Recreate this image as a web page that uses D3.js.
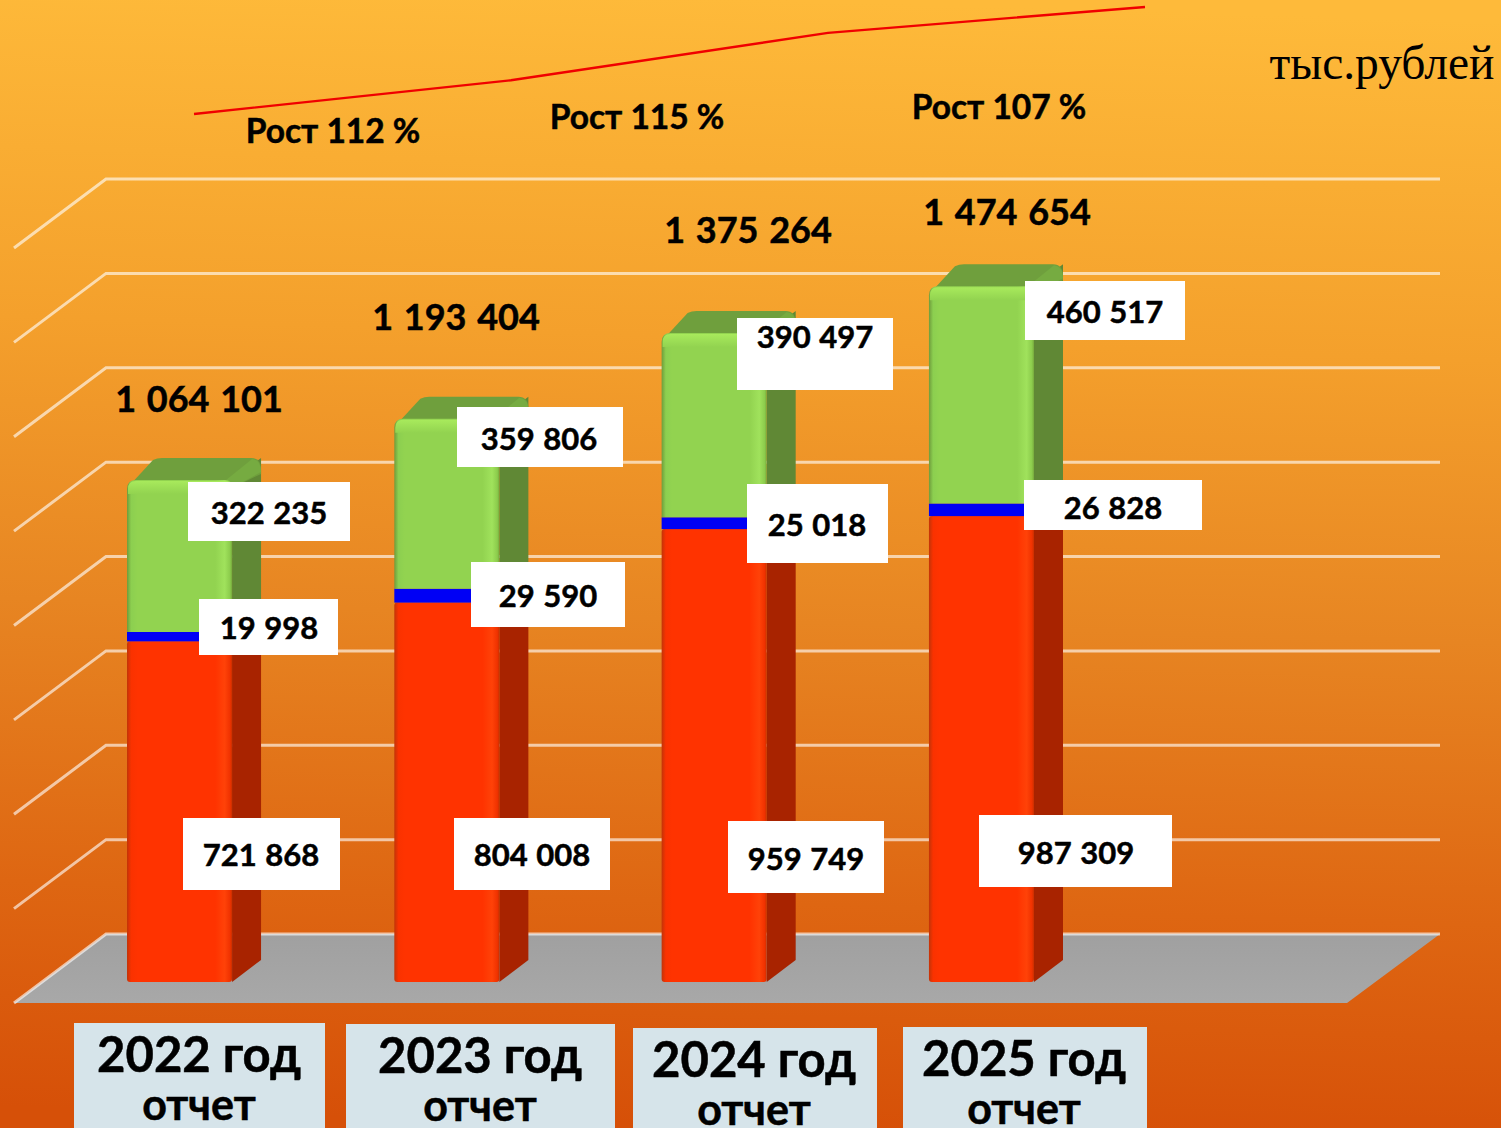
<!DOCTYPE html>
<html lang="ru">
<head>
	<meta charset="UTF-8">
	<title>Доходы по годам</title>
	<script src="https://d3js.org/d3.v7.min.js"></script>
	<style>
		html, body { margin: 0; padding: 0; background: #d9530a; overflow: hidden; }
		svg { display: block; }
		text { font-family: "Lato", "Open Sans", sans-serif; font-weight: 700; fill: #000; stroke: #000; stroke-width: 0.5px; }
	</style>
</head>
<body>
<div id="main"></div>
<script>
	// values, thousand roubles
	var years = ["2022", "2023", "2024", "2025"];
	var redValues = [721868, 804008, 959749, 987309];
	var blueValues = [19998, 29590, 25018, 26828];
	var greenValues = [322235, 359806, 390497, 460517];
	var totals = [1064101, 1193404, 1375264, 1474654];
	var growthLabels = ["Рост 112 %", "Рост 115 %", "Рост 107 %"];
	var gridTicks = [0, 200000, 400000, 600000, 800000, 1000000, 1200000, 1400000, 1600000];

	// layout only: hand placed boxes from the slide [x0, y0, x1, y1, text x, text baseline]
	var redBoxes = [[183,818,340,890,261,866],[454,818,610,890,532,866],[728,821,884,893,806,870],[979,815,1172,887,1076,864]];
	var blueBoxes = [[199,599,338,655,269,639],[471,562,625,627,548,607],[747,484,888,563,817,536],[1024,480,1202,530,1113,519]];
	var greenBoxes = [[188,482,350,541,269,524],[457,407,623,467,539,450],[737,318,893,390,815,348],[1025,281,1185,340,1105,323]];
	var yearBoxes = [[74,1023,325,1128,199],[346,1024,615,1128,480],[633,1028,877,1128,754],[903,1027,1147,1128,1024]];
	var totalPos = [[199,412],[456,330],[748,243],[1007,225]];
	var growthPos = [[333,143],[637,129],[999,119]];

	var width = 1501, height = 1128;
	var depthX = 29, depthY = 22;

	var svg = d3.select("#main").append("svg")
		.attr("width", width)
		.attr("height", height);
	var defs = svg.append("defs");

	function gradient(id, stops, x1, y1, x2, y2){
		var g = defs.append("linearGradient").attr("id", id)
			.attr("x1", x1).attr("y1", y1).attr("x2", x2).attr("y2", y2);
		stops.forEach(function(s){
			g.append("stop").attr("offset", s[0]).attr("stop-color", s[1]);
		});
	}
	gradient("bg", [[0,"#feba3a"],[0.3,"#f4a02c"],[0.55,"#e78522"],[0.8,"#de6612"],[1,"#d65008"]], 0.52, 0, 0.48, 1);
	gradient("floor", [[0,"#a0a0a0"],[1,"#a8a8a8"]], 0, 0, 0, 1);
	gradient("redFront", [[0,"#c23408"],[0.04,"#fa3200"],[0.1,"#ff3300"],[0.84,"#ff3300"],[0.93,"#ff4208"],[0.98,"#f03200"],[1,"#c83000"]], 0, 0, 1, 0);
	gradient("greenFront", [[0,"#6f9c3c"],[0.04,"#8ccf50"],[0.1,"#92d350"],[0.84,"#92d350"],[0.93,"#a0e25c"],[0.98,"#8ccc4c"],[1,"#76a83c"]], 0, 0, 1, 0);
	gradient("greenRim", [[0,"#a8ea5c"],[1,"#92d350"]], 0, 0, 0, 1);

	svg.append("rect").attr("width", width).attr("height", height).attr("fill", "url(#bg)");

	// same value scale for bars and the back wall, the wall just sits higher up
	var y = d3.scaleLinear().domain([0, 1600000]).range([982, 227]);
	var wallShift = -48, wallX0 = 106, wallX1 = 1440, sideX = 92, sideY = 69;
	var x = d3.scaleBand().domain(years).range([127, 1034]).paddingInner(0.607).paddingOuter(0);

	// floor
	svg.append("path")
		.attr("d", d3.line()([[wallX0, y(0) + wallShift], [wallX1, y(0) + wallShift], [1347, y(0) + wallShift + sideY], [wallX0 - sideX, y(0) + wallShift + sideY]]) + "Z")
		.attr("fill", "url(#floor)");

	// grid lines
	var grid = svg.append("g").attr("fill", "none").attr("stroke", "#fff").attr("stroke-opacity", 0.62).attr("stroke-width", 3);
	grid.selectAll("path")
		.data(gridTicks)
		.enter()
		.append("path")
		.attr("d", function(d){
			var yy = y(d) + wallShift;
			return d3.line()([[wallX0 - sideX, yy + sideY], [wallX0, yy], [wallX1, yy]]);
		});

	// stacked segments
	var stack = years.map(function(year, i){
		return {
			year: year,
			red: [0, redValues[i]],
			blue: [redValues[i], redValues[i] + blueValues[i]],
			green: [redValues[i] + blueValues[i], redValues[i] + blueValues[i] + greenValues[i]]
		};
	});

	function sidePath(d, seg){
		var x1 = x(d.year) + x.bandwidth();
		var yb = y(d[seg][0]), yt = y(d[seg][1]);
		return d3.line()([[x1, yb], [x1 + depthX, yb - depthY], [x1 + depthX, yt - depthY], [x1, yt]]) + "Z";
	}

	var bars = svg.selectAll("g.bar")
		.data(stack)
		.enter()
		.append("g")
		.attr("class", "bar");

	bars.append("path").attr("fill", "#a82300").attr("d", function(d){ return sidePath(d, "red"); });
	bars.append("path").attr("fill", "#0000a8").attr("d", function(d){ return sidePath(d, "blue"); });
	bars.append("path").attr("fill", "#608835").attr("d", function(d){ return sidePath(d, "green"); });

	// top cap, a bit rounded
	bars.append("path")
		.attr("fill", "#6f9f3d")
		.attr("d", function(d){
			var x0 = x(d.year), x1 = x0 + x.bandwidth(), t = y(d.green[1]);
			return "M" + (x0 + 2) + "," + (t + 6) + "L" + (x0 + depthX - 3) + "," + (t - depthY + 2)
				+ "Q" + (x0 + depthX + 1) + "," + (t - depthY) + " " + (x0 + depthX + 6) + "," + (t - depthY)
				+ "L" + (x1 + depthX - 10) + "," + (t - depthY)
				+ "Q" + (x1 + depthX) + "," + (t - depthY) + " " + (x1 + depthX) + "," + (t - depthY + 12)
				+ "L" + (x1 + depthX) + "," + (t - depthY + 16)
				+ "L" + x1 + "," + (t + 8) + "Z";
		});
	bars.append("path")
		.attr("fill", "#76ab41")
		.attr("d", function(d){
			var x1 = x(d.year) + x.bandwidth(), t = y(d.green[1]);
			return "M" + (x1 - 6) + "," + t + "L" + (x1 + depthX - 9) + "," + (t - depthY + 1)
				+ "Q" + (x1 + depthX) + "," + (t - depthY + 2) + " " + (x1 + depthX) + "," + (t - depthY + 14)
				+ "L" + x1 + "," + (t + 8) + "Z";
		});

	// front faces
	bars.append("rect")
		.attr("x", function(d){ return x(d.year); })
		.attr("width", x.bandwidth())
		.attr("y", function(d){ return y(d.red[1]); })
		.attr("height", function(d){ return y(d.red[0]) - y(d.red[1]); })
		.attr("rx", 3)
		.attr("fill", "url(#redFront)");
	bars.append("rect")
		.attr("x", function(d){ return x(d.year); })
		.attr("width", x.bandwidth())
		.attr("y", function(d){ return y(d.blue[1]); })
		.attr("height", function(d){ return y(d.blue[0]) - y(d.blue[1]); })
		.attr("fill", "#0000f5");
	bars.append("path")
		.attr("fill", "url(#greenFront)")
		.attr("d", function(d){
			var x0 = x(d.year), x1 = x0 + x.bandwidth(), t = y(d.green[1]), b = y(d.green[0]);
			return "M" + x0 + "," + b + "L" + x0 + "," + (t + 9) + "Q" + x0 + "," + t + " " + (x0 + 9) + "," + t
				+ "L" + (x1 - 7) + "," + t + "Q" + x1 + "," + t + " " + x1 + "," + (t + 7) + "L" + x1 + "," + b + "Z";
		});
	// light rim on the top edge of the green part
	bars.append("path")
		.attr("fill", "url(#greenRim)")
		.attr("d", function(d){
			var x0 = x(d.year), x1 = x0 + x.bandwidth(), t = y(d.green[1]);
			return "M" + (x0 + 1) + "," + (t + 14) + "L" + (x0 + 1) + "," + (t + 9) + "Q" + (x0 + 1) + "," + (t + 1) + " " + (x0 + 9) + "," + (t + 1)
				+ "L" + (x1 - 7) + "," + (t + 1) + "Q" + (x1 - 1) + "," + (t + 1) + " " + (x1 - 1) + "," + (t + 7) + "L" + (x1 - 1) + "," + (t + 14) + "Z";
		});

	// growth line
	var xLine = d3.scalePoint().domain(years).range([194, 1145]);
	var yLine = d3.scaleLinear().domain([1064101, 1474654]).range([114, 7]);
	svg.append("path")
		.attr("d", d3.line()
			.x(function(d, i){ return xLine(years[i]); })
			.y(function(d){ return yLine(d); })(totals))
		.attr("fill", "none")
		.attr("stroke", "#f00000")
		.attr("stroke-width", 2.4);

	// value labels in white boxes
	function valueFmt(v){
		return d3.format(",")(v).replace(/,/g, " ");
	}
	function addBoxes(values, boxes){
		var g = svg.append("g");
		g.selectAll("rect").data(boxes).enter().append("rect")
			.attr("x", function(d){ return d[0]; })
			.attr("y", function(d){ return d[1]; })
			.attr("width", function(d){ return d[2] - d[0]; })
			.attr("height", function(d){ return d[3] - d[1]; })
			.attr("fill", "#fff");
		g.selectAll("text").data(values).enter().append("text")
			.attr("x", function(d, i){ return boxes[i][4]; })
			.attr("y", function(d, i){ return boxes[i][5]; })
			.attr("text-anchor", "middle")
			.attr("font-size", 31)
			.style("word-spacing", "1px")
			.text(valueFmt);
	}
	addBoxes(redValues, redBoxes);
	addBoxes(blueValues, blueBoxes);
	addBoxes(greenValues, greenBoxes);

	svg.selectAll("text.total").data(totals).enter().append("text")
		.attr("class", "total")
		.attr("x", function(d, i){ return totalPos[i][0]; })
		.attr("y", function(d, i){ return totalPos[i][1]; })
		.attr("text-anchor", "middle")
		.attr("font-size", 36)
		.style("word-spacing", "2px")
		.text(valueFmt);

	svg.selectAll("text.growth").data(growthLabels).enter().append("text")
		.attr("class", "growth")
		.attr("x", function(d, i){ return growthPos[i][0]; })
		.attr("y", function(d, i){ return growthPos[i][1]; })
		.attr("text-anchor", "middle")
		.attr("font-size", 33.5)
		.text(function(d){ return d; });

	// year captions
	var cap = svg.selectAll("g.cap").data(years).enter().append("g").attr("class", "cap");
	cap.append("rect")
		.attr("x", function(d, i){ return yearBoxes[i][0]; })
		.attr("y", function(d, i){ return yearBoxes[i][1]; })
		.attr("width", function(d, i){ return yearBoxes[i][2] - yearBoxes[i][0]; })
		.attr("height", function(d, i){ return yearBoxes[i][3] - yearBoxes[i][1]; })
		.attr("fill", "#d6e4ea");
	cap.append("text")
		.attr("x", function(d, i){ return yearBoxes[i][4]; })
		.attr("y", function(d, i){ return yearBoxes[i][1] + 49; })
		.attr("text-anchor", "middle")
		.attr("font-size", 49)
		.text(function(d){ return d + " год"; });
	cap.append("text")
		.attr("x", function(d, i){ return yearBoxes[i][4]; })
		.attr("y", function(d, i){ return yearBoxes[i][1] + 97; })
		.attr("text-anchor", "middle")
		.attr("font-size", 43)
		.text("отчет");

	svg.append("text")
		.attr("x", 1382)
		.attr("y", 79)
		.attr("text-anchor", "middle")
		.attr("font-size", 47.5)
		.style("font-family", "'Liberation Serif', serif")
		.style("font-weight", 400)
		.style("stroke", "none")
		.text("тыс.рублей");
</script>
</body>
</html>
